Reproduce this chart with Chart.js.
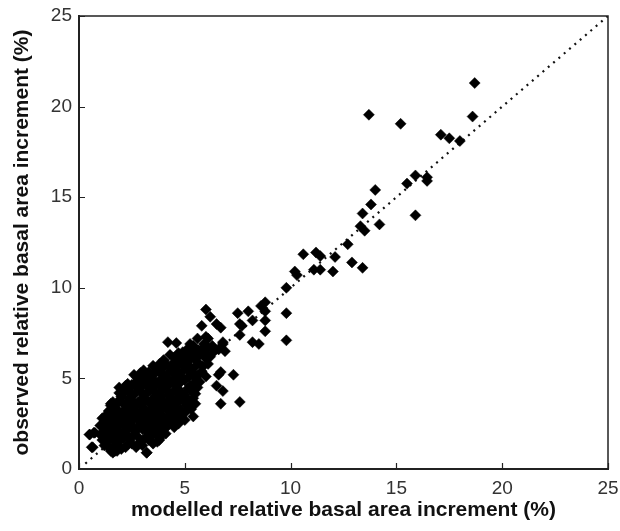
<!DOCTYPE html>
<html>
<head>
<meta charset="utf-8">
<script src="https://cdn.jsdelivr.net/npm/chart.js@4"></script>
<style>
  html, body { margin: 0; padding: 0; background: #fff; }
  #wrap { width: 620px; height: 531px; }
</style>
</head>
<body>
<div id="wrap"><canvas id="scatter"></canvas></div>
<script>
// axis ticks
const tickValues = [0, 5, 10, 15, 20, 25];

// dense cluster of small increments [modelled, observed]
const clusterPts = [
  [1.6,0.9],[1.8,1.0],[2.0,1.1],[1.4,1.2],[1.7,1.3],[2.2,1.2],[1.2,1.3],[3.2,0.9],[2.5,1.4],[1.9,1.5],
  [1.1,1.6],[1.3,1.7],[1.6,1.6],[2.1,1.7],[2.4,1.6],[2.9,1.5],[3.1,1.7],[3.7,1.5],[3.8,1.7],[3.9,1.9],
  [1.0,1.9],[1.5,1.9],[2.0,1.9],[2.6,1.9],[3.4,1.8],[0.5,1.9],[0.7,2.0],[0.6,1.2],
  [1.2,2.1],[1.6,2.2],[1.9,2.1],[2.3,2.2],[2.7,2.1],[3.0,2.2],[3.3,2.0],[3.6,2.3],[4.0,2.2],[4.2,2.4],
  [1.0,2.4],[1.4,2.5],[1.8,2.4],[2.1,2.5],[2.5,2.4],[2.9,2.5],[3.2,2.4],[3.5,2.6],[3.8,2.5],[4.4,2.6],
  [1.1,2.8],[1.5,2.7],[1.7,2.9],[2.0,2.8],[2.3,2.7],[2.6,2.9],[2.8,2.7],[3.1,2.8],[3.4,2.9],[3.7,2.8],
  [4.0,2.7],[4.3,2.9],[4.6,2.8],[4.8,2.9],[1.3,3.0],[2.2,3.0],[3.0,3.0],[3.9,3.0],
  [1.4,3.2],[1.8,3.3],[2.1,3.2],[2.4,3.4],[2.7,3.2],[3.0,3.4],[3.3,3.2],[3.6,3.4],[3.9,3.3],[4.2,3.2],
  [4.5,3.4],[4.8,3.3],[5.1,3.5],[5.3,3.3],[1.5,3.5],[2.5,3.1],[3.5,3.1],[4.4,3.1],
  [1.6,3.7],[1.9,3.8],[2.2,3.6],[2.5,3.8],[2.8,3.7],[3.1,3.9],[3.4,3.6],[3.7,3.8],[4.0,3.7],[4.3,3.9],
  [4.6,3.6],[4.9,3.8],[5.2,3.8],[5.4,3.9],[2.0,4.0],[3.0,3.6],[3.9,4.0],[4.7,4.0],
  [1.9,4.2],[2.2,4.3],[2.6,4.1],[2.9,4.3],[3.2,4.2],[3.5,4.4],[3.8,4.2],[4.1,4.4],[4.4,4.2],[4.7,4.4],
  [5.0,4.1],[5.3,4.3],[2.4,4.5],[3.3,4.5],[4.2,4.6],[5.6,4.5],
  [2.3,4.7],[2.7,4.8],[3.0,4.6],[3.4,4.8],[3.7,4.7],[4.0,4.9],[4.4,4.8],[4.7,4.7],[5.0,4.9],[5.4,4.7],
  [5.7,4.8],[3.1,5.0],[4.5,5.0],[5.2,5.1],
  [2.6,5.2],[2.9,5.3],[3.2,5.2],[3.6,5.3],[4.0,5.2],[4.3,5.4],[4.7,5.3],[5.0,5.5],[5.4,5.3],[5.8,5.4],
  [6.0,5.1],[3.9,5.5],[4.6,5.6],
  [3.5,5.7],[3.8,5.8],[4.2,5.7],[4.5,5.9],[4.9,5.8],[5.2,5.7],[5.6,5.9],[6.1,5.8],[4.0,6.0],[5.3,6.1],[4.8,6.1],
  [4.3,6.3],[4.7,6.4],[5.0,6.2],[5.4,6.4],[5.7,6.3],[6.2,6.2],[5.1,6.6],[5.8,6.6],[6.4,6.5],
  [5.4,6.8],[5.9,6.9],[6.3,6.8],[6.6,6.6],[6.8,7.0],[5.6,7.2],[6.0,7.3]
];

// second layer of the cluster, filling the gaps between the rows above
const clusterFill = [
  [1.5,1.0],[1.9,1.25],[2.3,1.35],[1.3,1.45],[2.7,1.2],[3.0,1.3],[3.5,1.4],
  [1.2,1.85],[1.75,1.8],[2.25,1.9],[2.8,1.75],[3.3,1.6],[3.6,2.0],[4.1,1.95],
  [1.35,2.3],[1.75,2.15],[2.15,2.35],[2.55,2.2],[2.85,2.35],[3.15,2.15],[3.45,2.35],[3.85,2.15],[4.5,2.3],[4.7,2.5],
  [1.25,2.65],[1.6,2.55],[1.9,2.65],[2.45,2.6],[2.75,2.85],[3.25,2.65],[3.55,2.75],[3.85,2.65],[4.15,2.8],[4.45,2.7],[5.0,2.7],
  [1.6,3.1],[1.95,3.05],[2.35,3.25],[2.85,3.05],[3.15,3.25],[3.45,3.35],[3.75,3.15],[4.05,3.45],[4.35,3.3],[4.65,3.2],[5.0,3.1],[5.5,3.6],
  [1.75,3.55],[2.05,3.65],[2.35,3.9],[2.65,3.55],[2.95,3.85],[3.25,3.75],[3.55,3.95],[3.85,3.55],[4.15,3.6],[4.45,3.75],[4.75,3.85],[5.05,3.65],
  [2.05,4.35],[2.45,4.2],[2.75,4.45],[3.05,4.1],[3.35,4.3],[3.65,4.05],[3.95,4.35],[4.25,4.1],[4.55,4.35],[4.85,4.2],[5.15,4.45],[5.5,4.15],
  [2.5,4.65],[2.85,4.95],[3.25,4.7],[3.55,4.9],[3.85,4.6],[4.15,4.75],[4.6,4.55],[4.85,4.85],[5.25,4.6],[5.55,4.95],
  [2.75,5.05],[3.05,5.45],[3.4,5.1],[3.75,5.4],[4.15,5.05],[4.5,5.25],[4.85,5.1],[5.2,5.4],[5.6,5.15],
  [3.65,5.55],[4.05,5.75],[4.35,5.6],[4.7,5.75],[5.05,5.95],[5.45,5.6],[5.85,5.65],
  [4.5,6.15],[4.9,6.45],[5.25,6.3],[5.55,6.15],[6.0,6.4],
  [5.25,6.9],[5.65,6.55],[6.1,6.7]
];

// scattered points around the cluster edge and middle range
const midPts = [
  [4.2,7.0],[4.6,6.95],[4.0,6.0],[5.4,6.65],[3.0,5.2],[3.3,5.35],[3.9,5.0],
  [5.4,2.9],[4.8,2.75],[4.2,2.4],[3.8,1.6],[2.9,1.45],[3.2,0.9],[1.7,1.0],[0.65,1.2],
  [0.5,1.9],[0.75,2.0],[1.5,3.6],[1.9,4.5],[2.2,4.6],
  [6.7,3.6],[7.6,3.7],[6.8,4.3],[6.5,4.6],[7.3,5.2],[6.7,5.35],[6.6,5.2],
  [5.8,7.9],[6.0,8.8],[6.2,8.4],[6.5,8.0],[6.7,7.8],[6.1,7.2],[6.8,6.9],[6.9,6.5],[6.0,6.1],
  [7.5,8.6],[7.6,8.0],[7.7,7.9],[7.6,7.4],[8.0,8.7],[8.2,8.2],[8.2,7.0],[8.5,6.9],
  [8.6,9.0],[8.8,9.2],[8.8,8.7],[8.8,8.2],[8.8,7.6],
  [9.8,10.0],[9.8,8.6],[9.8,7.1]
];

// sparse points at high increments
const highPts = [
  [10.2,10.9],[10.3,10.7],[10.6,11.85],[11.2,11.95],[11.4,11.75],[11.1,11.0],[11.4,11.0],
  [12.0,10.9],[12.1,11.7],[12.7,12.4],[12.9,11.4],[13.4,11.1],[13.3,13.4],[13.5,13.15],
  [13.4,14.1],[14.2,13.5],[13.8,14.6],[14.0,15.4],[15.9,14.0],[15.5,15.75],[15.9,16.2],
  [16.45,16.1],[16.45,15.9],[13.7,19.55],[15.2,19.05],[17.1,18.45],[17.5,18.25],[18.0,18.1],
  [18.6,19.45],[18.7,21.3]
];

// 1:1 reference line
const lineX = [0.3, 25];
const lineY = [0.3, 25];

const allPts = clusterPts.concat(clusterFill, midPts, highPts).map(p => ({ x: p[0], y: p[1] }));
const refLine = lineX.map((v, i) => ({ x: v, y: lineY[i] }));

// box round the plot and inward tick marks
const frame = {
  id: 'frame',
  afterDraw(chart) {
    const { ctx, chartArea: a, scales } = chart;
    ctx.save();
    ctx.strokeStyle = '#222';
    ctx.lineWidth = 1.5;
    ctx.strokeRect(a.left, a.top, a.right - a.left, a.bottom - a.top);
    ctx.lineWidth = 1.2;
    ctx.beginPath();
    tickValues.forEach(v => {
      const px = Math.round(scales.x.getPixelForValue(v)) + 0.5;
      ctx.moveTo(px, a.bottom); ctx.lineTo(px, a.bottom - 6);
      const py = Math.round(scales.y.getPixelForValue(v)) + 0.5;
      ctx.moveTo(a.left, py); ctx.lineTo(a.left + 6, py);
    });
    ctx.stroke();
    ctx.restore();
  }
};

const tickFont = { family: '"Liberation Sans", Arial, sans-serif', size: 19 };
const titleFont = { family: '"Liberation Sans", Arial, sans-serif', size: 21, weight: 'bold' };

new Chart(document.getElementById('scatter'), {
  type: 'scatter',
  data: {
    datasets: [
      {
        label: 'observations',
        data: allPts,
        pointStyle: 'rectRot',
        pointRadius: 5.5,
        pointBackgroundColor: '#000',
        pointBorderColor: '#000',
        pointBorderWidth: 0.5
      },
      {
        label: '1:1',
        type: 'line',
        data: refLine,
        borderColor: '#111',
        borderWidth: 2.2,
        borderDash: [2, 5],
        pointRadius: 0,
        fill: false
      }
    ]
  },
  options: {
    responsive: true,
    maintainAspectRatio: false,
    animation: false,
    layout: { padding: { top: 16, right: 12, left: 0, bottom: 0 } },
    plugins: { legend: { display: false }, tooltip: { enabled: false } },
    scales: {
      x: {
        type: 'linear', min: 0, max: 25,
        afterBuildTicks: s => { s.ticks = tickValues.map(v => ({ value: v })); },
        afterFit: s => { s.height = 62; s.paddingLeft = 0; s.paddingRight = 0; },
        grid: { drawOnChartArea: false, drawTicks: false },
        border: { color: '#222', width: 2 },
        ticks: { font: tickFont, color: '#333', padding: 8, maxRotation: 0 },
        title: { display: true, text: 'modelled relative basal area increment (%)', font: titleFont, color: '#111', padding: { top: 0, bottom: 8 } }
      },
      y: {
        type: 'linear', min: 0, max: 25,
        afterBuildTicks: s => { s.ticks = tickValues.map(v => ({ value: v })); },
        afterFit: s => { s.width = 79; s.paddingTop = 0; s.paddingBottom = 0; },
        grid: { drawOnChartArea: false, drawTicks: false },
        border: { color: '#222', width: 2 },
        ticks: { font: tickFont, color: '#333', padding: 7 },
        title: { display: true, text: 'observed relative basal area increment (%)', font: titleFont, color: '#111', padding: { top: 10, bottom: 0 } }
      }
    }
  },
  plugins: [frame]
});
</script>
</body>
</html>
